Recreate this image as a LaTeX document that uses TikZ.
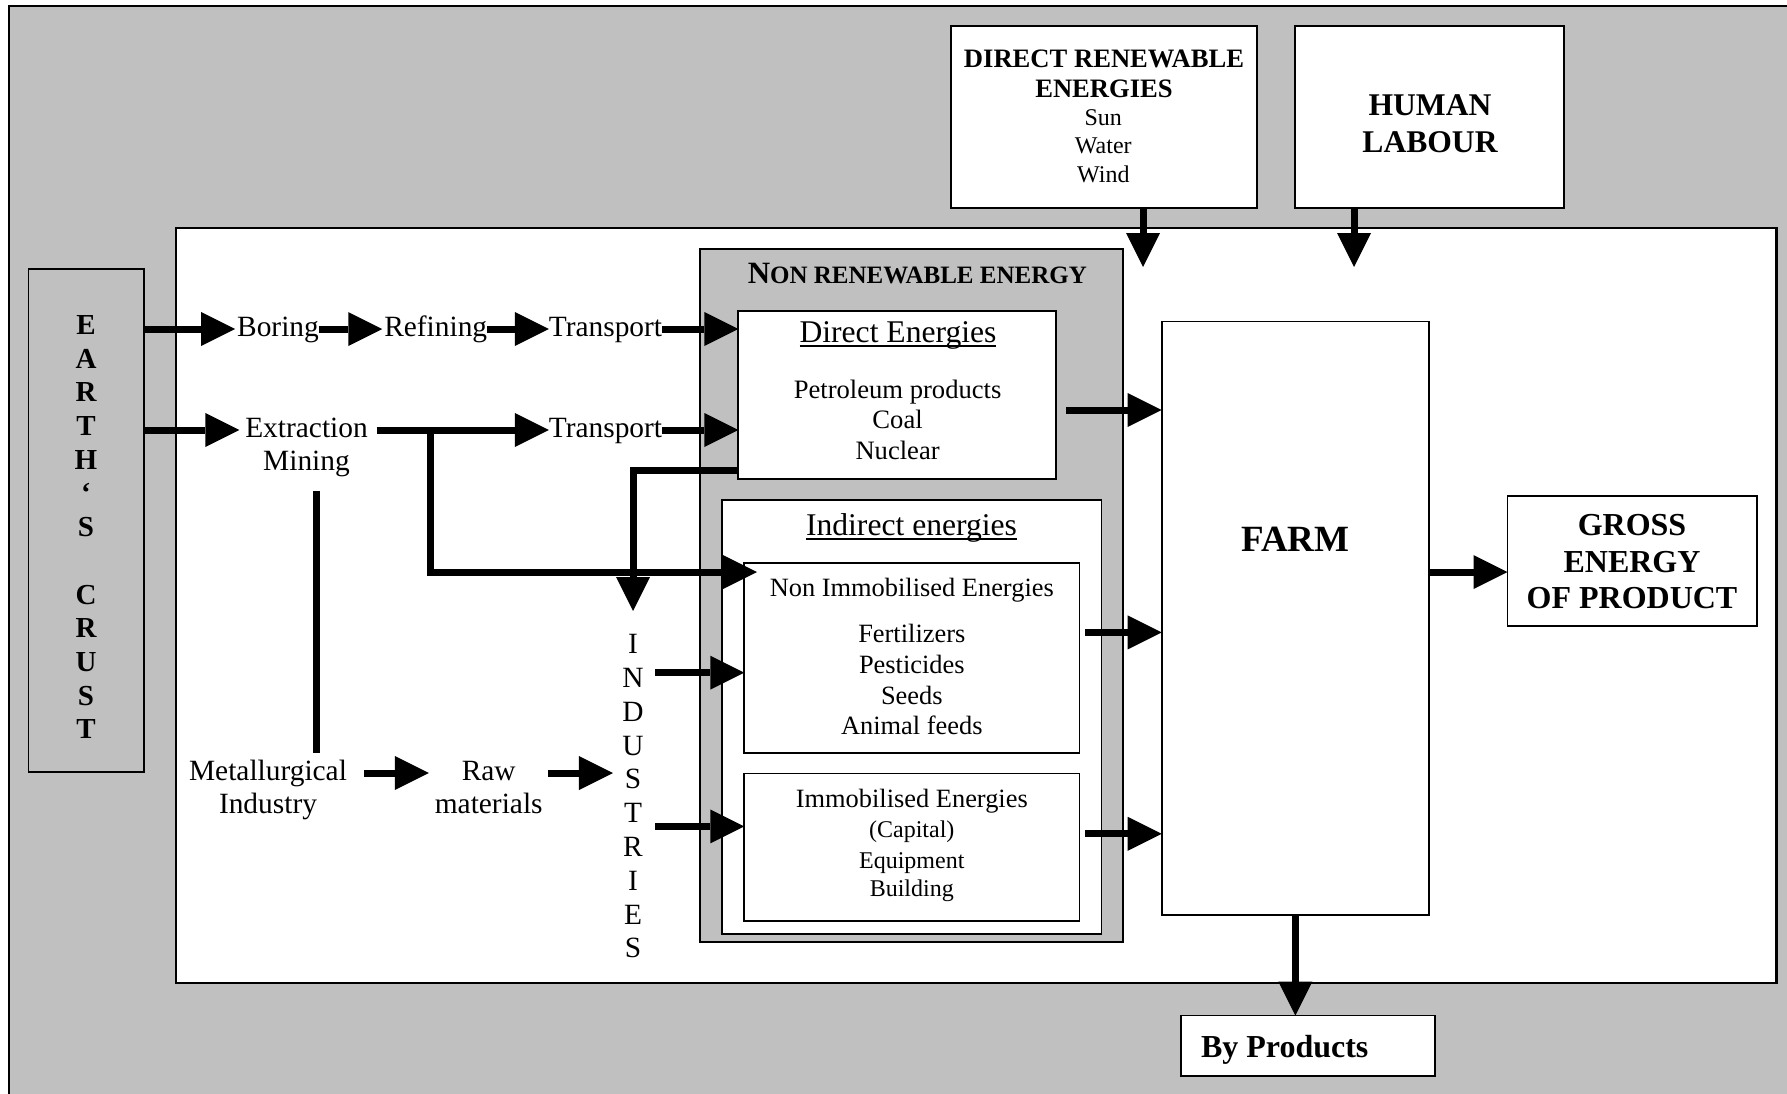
\documentclass[tikz,border=0pt]{standalone}
\usepackage{fontspec}
\setmainfont{Liberation Serif}
\usetikzlibrary{arrows.meta}
\definecolor{panelgray}{RGB}{192,192,192}
\newlength\ulwidth
% underline that sits just below the baseline
\newcommand\ulined[1]{\settowidth{\ulwidth}{#1}\rlap{\rule[-0.16em]{\ulwidth}{0.06em}}#1}
\newcommand\setfs[2]{\fontsize{#1}{#2}\selectfont}
% fixed line height for multi-line labels
\newcommand\lnstrut{\rule[-0.22em]{0pt}{0.9em}}

\begin{document}
\begin{tikzpicture}[x=0.5pt,y=-0.5pt,
  box/.style={draw, line width=0.9pt, inner sep=0pt, outer sep=0pt, fill=white},
  graybox/.style={box, fill=panelgray},
  txt/.style={inner sep=0pt, outer sep=0pt, align=center},
  rowtxt/.style={txt, font=\setfs{14.7}{16.6}},
  arr/.style={line width=3.5pt, -{Triangle[length=17pt,width=17pt,line width=0pt]}},
  ln/.style={line width=3.5pt}]

\useasboundingbox (0,0) rectangle (1787,1093);
\clip (0,0) rectangle (1787,1093);
\fill[white] (0,0) rectangle (1787,1093);

% outer panel and working field
\draw[fill=panelgray, line width=0.9pt] (9,6) rectangle (1820,1120);
\node[box, line width=1.1pt, minimum width=800.25pt, minimum height=377.5pt] (field) at (976.25,605.8) {};

% boxes
\node[graybox, minimum width=57.75pt, minimum height=251.6pt] (earth) at (86.25,520.2) {};
\node[graybox, minimum width=211.5pt, minimum height=346.7pt] (nrbox) at (911.5,595.3) {};
\node[box, minimum width=158.85pt, minimum height=84.15pt] (direct) at (897.15,395.15) {};
\node[box, minimum width=189.9pt, minimum height=217pt] (indirect) at (911.6,717) {};
\node[box, minimum width=167.6pt, minimum height=94.7pt] (nonimm) at (911.9,658) {};
\node[box, minimum width=167.6pt, minimum height=73.75pt] (imm) at (911.9,847.25) {};
\node[box, minimum width=153.2pt, minimum height=91pt] (dre) at (1103.8,117) {};
\node[box, minimum width=134.5pt, minimum height=91pt] (hl) at (1429.5,117) {};
\node[box, minimum width=133.65pt, minimum height=296.6pt] (farm) at (1295.35,618) {};
\node[box, minimum width=124.75pt, minimum height=65pt] (gross) at (1632.25,561) {};
\node[box, minimum width=127pt, minimum height=30.25pt] (byp) at (1308,1045.75) {};

% earth's crust lettering
\node[txt, anchor=north, font=\bfseries\setfs{14.5}{16.85}] (crust) at (86,314.7)
  {\lnstrut E\\\lnstrut A\\\lnstrut R\\\lnstrut T\\\lnstrut H\\\lnstrut `\\\lnstrut S\\[16.85pt]%
   \lnstrut C\\\lnstrut R\\\lnstrut U\\\lnstrut S\\\lnstrut T};

% process chain labels
\node[rowtxt, anchor=base] (boring) at (278,336) {Boring};
\node[rowtxt, anchor=base] (refining) at (435.7,336) {Refining};
\node[rowtxt, anchor=base] (transport1) at (605.5,336) {Transport};
\node[rowtxt, anchor=north] (ext) at (306.5,417.5) {\lnstrut Extraction\\\lnstrut Mining};
\node[rowtxt, anchor=base] (transport2) at (605.5,437) {Transport};
\node[rowtxt, anchor=north] (metall) at (268,760) {\lnstrut Metallurgical\\\lnstrut Industry};
\node[rowtxt, anchor=north] (raw) at (488.7,760) {\lnstrut Raw\\\lnstrut materials};
\node[txt, anchor=north, font=\setfs{14.7}{16.9}] (ind) at (633,633.7)
  {\lnstrut I\\\lnstrut N\\\lnstrut D\\\lnstrut U\\\lnstrut S\\\lnstrut T\\\lnstrut R\\\lnstrut I\\\lnstrut E\\\lnstrut S};

% non renewable energy panel
\node[txt, anchor=base, font=\bfseries] (nrtitle) at (917.3,283)
  {{\setfs{15.5}{18}N}{\setfs{12.5}{15}ON RENEWABLE ENERGY}};
\node[txt, anchor=base, font=\setfs{15.8}{18}] (dtitle) at (898,342) {\ulined{Direct Energies}};
\node[txt, anchor=north, font=\setfs{13.3}{15.2}] (dlist) at (897.6,380.1)
  {\lnstrut Petroleum products\\\lnstrut Coal\\\lnstrut Nuclear};
\node[txt, anchor=base, font=\setfs{15.8}{18}] (ititle) at (911.5,535) {\ulined{Indirect energies}};
\node[txt, anchor=base, font=\setfs{13.2}{15}] (nititle) at (911.8,596.5) {Non Immobilised Energies};
\node[txt, anchor=north, font=\setfs{13.2}{15.3}] (nilist) at (911.8,624.5)
  {\lnstrut Fertilizers\\\lnstrut Pesticides\\\lnstrut Seeds\\\lnstrut Animal feeds};
\node[txt, anchor=base, font=\setfs{13.2}{15}] (imtitle) at (911.8,807) {Immobilised Energies};
\node[txt, anchor=north, font=\setfs{12}{13.75}] (imlist) at (911.8,820.7)
  {\lnstrut (Capital)\\[2pt]\lnstrut Equipment\\\lnstrut Building};

% top inputs
\node[txt, anchor=north, font=\bfseries\setfs{13.3}{15}] (dretitle) at (1104,49)
  {\lnstrut DIRECT RENEWABLE\\\lnstrut ENERGIES};
\node[txt, anchor=north, font=\setfs{12}{14.1}] (drelist) at (1103.3,109.4)
  {\lnstrut Sun\\\lnstrut Water\\\lnstrut Wind};
\node[txt, anchor=north, font=\bfseries\setfs{15.8}{18.45}] (hltext) at (1430,94.5)
  {\lnstrut HUMAN\\\lnstrut LABOUR};

% farm and outputs
\node[txt, anchor=base, font=\bfseries\setfs{18.5}{22}] (farmtext) at (1295.3,551.7) {FARM};
\node[txt, anchor=north, font=\bfseries\setfs{16}{18.25}] (grosstext) at (1632,514)
  {\lnstrut GROSS\\\lnstrut ENERGY\\\lnstrut OF PRODUCT};
\node[txt, anchor=base west, font=\bfseries\setfs{16}{18}] (byptext) at (1201,1057.5) {By Products};

% connector levels
\coordinate (r1) at (0,329);
\coordinate (r2) at (0,430);
\coordinate (r3) at (0,773);
\coordinate (r4) at (0,572);
\coordinate (r5) at (0,470.7);
\coordinate (r6) at (0,672.7);
\coordinate (r7) at (0,826.4);
\coordinate (r8) at (0,410);
\coordinate (r9) at (0,632.4);
\coordinate (r10) at (0,833.8);
\coordinate (split) at (430.5,430);
\coordinate (nitip) at (757,572);
\coordinate (minex) at (316,0);
\coordinate (dretip) at (1143,267);
\coordinate (hltip) at (1354,267);

% connectors
\draw[arr, shorten >=1pt] (earth.east |- r1) -- (boring.west |- r1);
\draw[arr, shorten >=1pt] (boring.east |- r1) -- (refining.west |- r1);
\draw[arr] (refining.east |- r1) -- (transport1.west |- r1);
\draw[arr] (transport1.east |- r1) -- (direct.west |- r1);
\draw[arr, shorten >=3pt] (earth.east |- r2) -- (ext.west |- r2);
\draw[arr, shorten <=4.5pt] (ext.east |- r2) -- (transport2.west |- r2);
\draw[arr] (transport2.east |- r2) -- (direct.west |- r2);
\draw[arr] (split) |- (nitip);
\draw[arr, shorten >=11.35pt] (direct.west |- r5) -| (ind.north);
\draw[ln, shorten <=6.9pt, shorten >=3.65pt] (ext.south -| minex) -- (metall.north -| minex);
\draw[arr, shorten <=8.65pt, shorten >=3pt] (metall.east |- r3) -- (raw.west |- r3);
\draw[arr, shorten <=2.7pt, shorten >=4.7pt] (raw.east |- r3) -- (ind.west |- r3);
\draw[arr, shorten <=5.7pt] (ind.east |- r6) -- (nonimm.west |- r6);
\draw[arr, shorten <=5.7pt] (ind.east |- r7) -- (imm.west |- r7);
\draw[arr, shorten <=5pt] (direct.east |- r8) -- (farm.west |- r8);
\draw[arr, shorten <=2.75pt] (nonimm.east |- r9) -- (farm.west |- r9);
\draw[arr, shorten <=2.75pt] (imm.east |- r10) -- (farm.west |- r10);
\draw[arr] (farm.east |- r4) -- (gross.west |- r4);
\draw[arr] (farm.south) -- (farm.south |- byp.north);
\draw[arr] (dre.south -| dretip) -- (dretip);
\draw[arr] (hl.south -| hltip) -- (hltip);

\end{tikzpicture}
\end{document}
